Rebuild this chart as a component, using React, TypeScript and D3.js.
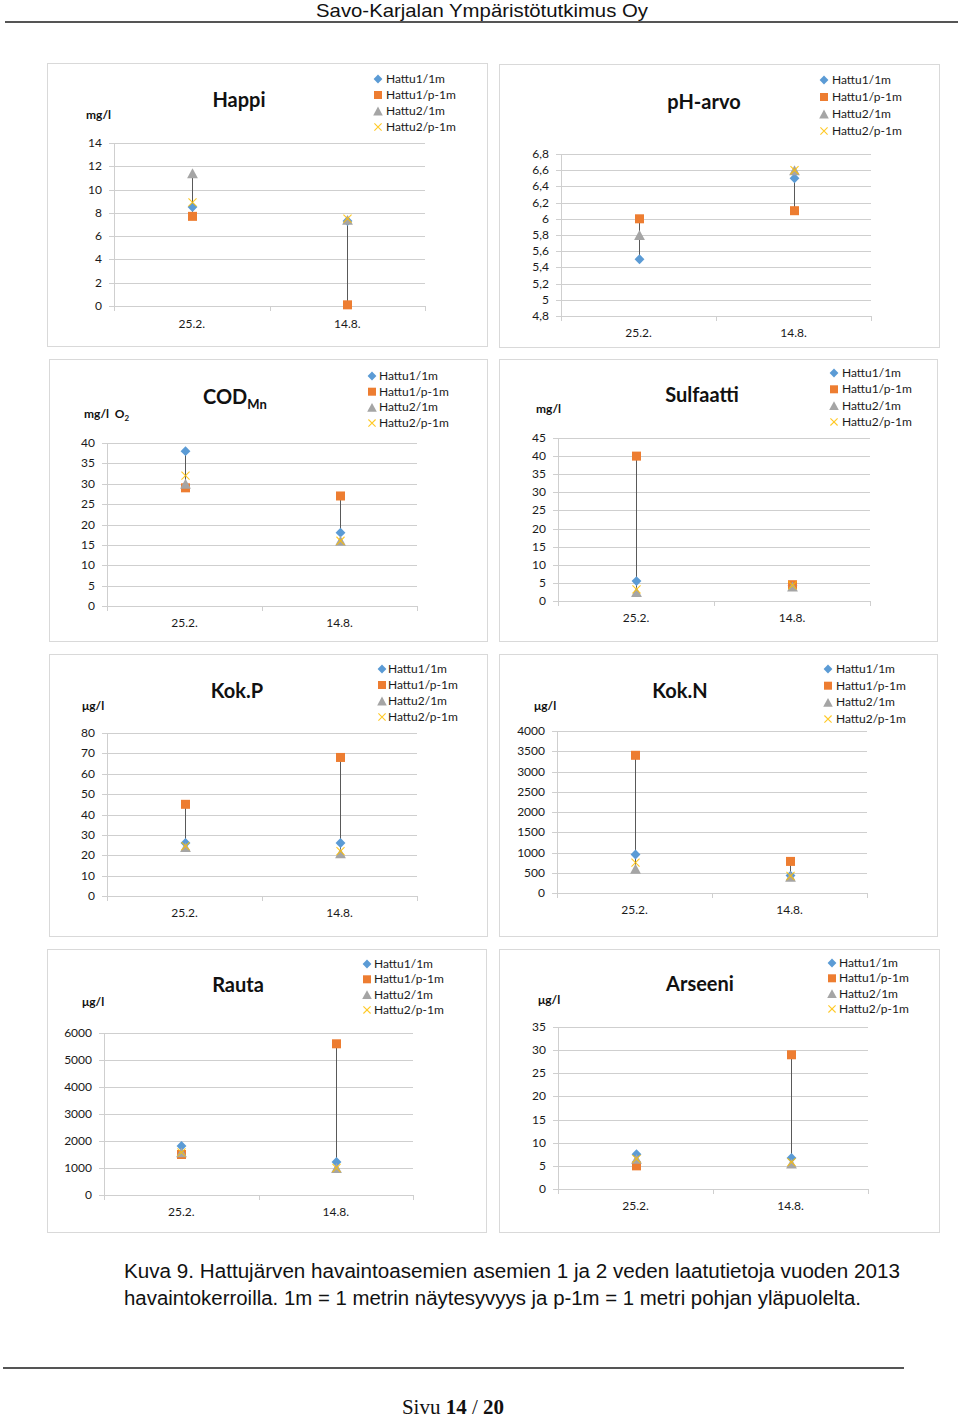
import React from "react";
import * as d3 from "d3";

const categories = ["25.2.", "14.8."];
const seriesNames = ["Hattu1/1m", "Hattu1/p-1m", "Hattu2/1m", "Hattu2/p-1m"];

// values per series: [25.2., 14.8.]
const happiValues = [[8.5, 7.3], [7.7, 0.1], [11.4, 7.4], [8.9, 7.5]];
const phValues = [[5.5, 6.5], [6.0, 6.1], [5.8, 6.6], [null, 6.6]];
const codValues = [[38, 18], [29, 27], [30, 16], [32, 16]];
const sulfaattiValues = [[5.5, 4.2], [40, 4.5], [2.5, 4.0], [3.2, 4.3]];
const kokPValues = [[26, 26], [45, 68], [24, 21], [24.5, 22]];
const kokNValues = [[950, 430], [3400, 780], [600, 400], [750, 420]];
const rautaValues = [[1815, 1220], [1500, 5600], [1580, 1000], [1580, 1000]];
const arseeniValues = [[7.5, 6.7], [5, 29], [6.5, 5.5], [6.5, 5.8]];

const happiTicks = [0, 2, 4, 6, 8, 10, 12, 14];
const phTicks = [4.8, 5, 5.2, 5.4, 5.6, 5.8, 6, 6.2, 6.4, 6.6, 6.8];
const codTicks = [0, 5, 10, 15, 20, 25, 30, 35, 40];
const sulfaattiTicks = [0, 5, 10, 15, 20, 25, 30, 35, 40, 45];
const kokPTicks = [0, 10, 20, 30, 40, 50, 60, 70, 80];
const kokNTicks = [0, 500, 1000, 1500, 2000, 2500, 3000, 3500, 4000];
const rautaTicks = [0, 1000, 2000, 3000, 4000, 5000, 6000];
const arseeniTicks = [0, 5, 10, 15, 20, 25, 30, 35];

const COLORS = ["#5B9BD5", "#ED7D31", "#A5A5A5", "#FFC000"];
const FONT = "Lato, 'Open Sans', sans-serif";

type Panel = {
  title: string;
  sub?: string;
  unit?: string;
  unitSub?: string;
  values: (number | null)[][];
  ticks: number[];
  box: [number, number, number, number];
  plot: { l: number; r: number; t: number; b: number };
  titlePos: [number, number];
  unitPos?: [number, number];
  legend: { mx: number; tx: number; y0: number; dy: number };
  xLabelDy: number;
};

const panels: Panel[] = [
  {
    title: "Happi", unit: "mg/l", values: happiValues, ticks: happiTicks,
    box: [47, 63, 440, 283], plot: { l: 114, r: 425, t: 143, b: 306 },
    titlePos: [239, 107], unitPos: [86, 119],
    legend: { mx: 378, tx: 386, y0: 79, dy: 16 }, xLabelDy: 22,
  },
  {
    title: "pH-arvo", values: phValues, ticks: phTicks,
    box: [499, 64, 440, 283], plot: { l: 561, r: 871, t: 154, b: 316 },
    titlePos: [704, 109],
    legend: { mx: 824, tx: 832, y0: 80, dy: 17 }, xLabelDy: 21,
  },
  {
    title: "COD", sub: "Mn", unit: "mg/l  O", unitSub: "2", values: codValues, ticks: codTicks,
    box: [49, 359, 438, 282], plot: { l: 107, r: 417, t: 443, b: 606 },
    titlePos: [203, 404], unitPos: [84, 418],
    legend: { mx: 372, tx: 379, y0: 376, dy: 15.7 }, xLabelDy: 21,
  },
  {
    title: "Sulfaatti", unit: "mg/l", values: sulfaattiValues, ticks: sulfaattiTicks,
    box: [499, 359, 438, 282], plot: { l: 558, r: 870, t: 438, b: 601 },
    titlePos: [702, 402], unitPos: [536, 413],
    legend: { mx: 834, tx: 842, y0: 373, dy: 16.3 }, xLabelDy: 21,
  },
  {
    title: "Kok.P", unit: "μg/l", values: kokPValues, ticks: kokPTicks,
    box: [49, 654, 438, 282], plot: { l: 107, r: 417, t: 733, b: 896 },
    titlePos: [237, 698], unitPos: [82, 710],
    legend: { mx: 382, tx: 388, y0: 669, dy: 16 }, xLabelDy: 21,
  },
  {
    title: "Kok.N", unit: "μg/l", values: kokNValues, ticks: kokNTicks,
    box: [499, 654, 438, 282], plot: { l: 557, r: 867, t: 731, b: 893 },
    titlePos: [680, 698], unitPos: [534, 710],
    legend: { mx: 828, tx: 836, y0: 669, dy: 16.7 }, xLabelDy: 21,
  },
  {
    title: "Rauta", unit: "μg/l", values: rautaValues, ticks: rautaTicks,
    box: [47, 949, 439, 283], plot: { l: 104, r: 413, t: 1033, b: 1195 },
    titlePos: [238, 992], unitPos: [82, 1006],
    legend: { mx: 367, tx: 374, y0: 964, dy: 15.3 }, xLabelDy: 21,
  },
  {
    title: "Arseeni", unit: "μg/l", values: arseeniValues, ticks: arseeniTicks,
    box: [499, 949, 440, 283], plot: { l: 558, r: 868, t: 1027, b: 1189 },
    titlePos: [700, 991], unitPos: [538, 1004],
    legend: { mx: 832, tx: 839, y0: 963, dy: 15.3 }, xLabelDy: 21,
  },
];

function marker(i: number, cx: number, cy: number, s: number, key: string) {
  if (i === 0) {
    const h = s * 0.55;
    return <path key={key} d={`M${cx},${cy - h}L${cx + h},${cy}L${cx},${cy + h}L${cx - h},${cy}Z`} fill={COLORS[0]} />;
  }
  if (i === 1) {
    const h = s * 0.5;
    return <rect key={key} x={cx - h} y={cy - h} width={2 * h} height={2 * h} fill={COLORS[1]} />;
  }
  if (i === 2) {
    const w = s * 0.6, hh = s * 0.55;
    return <path key={key} d={`M${cx},${cy - hh}L${cx + w},${cy + hh}L${cx - w},${cy + hh}Z`} fill={COLORS[2]} />;
  }
  const h = s * 0.45;
  return (
    <path key={key} d={`M${cx - h},${cy - h}L${cx + h},${cy + h}M${cx + h},${cy - h}L${cx - h},${cy + h}`}
      stroke={COLORS[3]} strokeWidth={1.1} fill="none" opacity={0.85} />
  );
}

const fmt = (v: number) => String(+v.toFixed(1)).replace(".", ",");

function ChartPanel({ p, idx }: { p: Panel; idx: number }) {
  const { l, r, t, b } = p.plot;
  const y = d3.scaleLinear().domain(d3.extent(p.ticks) as [number, number]).range([b, t]);
  const x = d3.scaleBand().domain(categories).range([l, r]);
  const cx = (c: string) => (x(c) as number) + x.bandwidth() / 2;
  const grid = "#CFCFCF";
  const boundaries = [l, ...categories.map((c) => (x(c) as number) + x.bandwidth())];
  return (
    <g key={idx}>
      <rect x={p.box[0] + 0.5} y={p.box[1] + 0.5} width={p.box[2]} height={p.box[3]} fill="#fff" stroke="#D9D9D9" />
      {p.ticks.map((tv) => (
        <g key={tv}>
          <line x1={l - 5} x2={r} y1={Math.round(y(tv)) + 0.5} y2={Math.round(y(tv)) + 0.5} stroke={grid} />
          <text x={l - 12} y={y(tv) + 4} textAnchor="end" fontSize={12} fontFamily={FONT} fill="#1a1a1a">
            {fmt(tv)}
          </text>
        </g>
      ))}
      <line x1={l + 0.5} x2={l + 0.5} y1={t} y2={b + 0.5} stroke={grid} />
      {boundaries.map((bx, i) => (
        <line key={i} x1={Math.round(bx) + 0.5} x2={Math.round(bx) + 0.5} y1={b} y2={b + 5} stroke={grid} />
      ))}
      {categories.map((c) => (
        <text key={c} x={cx(c)} y={b + p.xLabelDy} textAnchor="middle" fontSize={12} fontFamily={FONT} fill="#1a1a1a">
          {c}
        </text>
      ))}
      {categories.map((c, ci) => {
        const vals = p.values.map((s) => s[ci]).filter((v) => v !== null) as number[];
        const lo = d3.min(vals) as number, hi = d3.max(vals) as number;
        return <line key={"hl" + c} x1={Math.round(cx(c)) + 0.5} x2={Math.round(cx(c)) + 0.5} y1={y(lo)} y2={y(hi)} stroke="#595959" strokeWidth={1} />;
      })}
      {p.values.map((s, si) =>
        s.map((v, ci) => (v === null ? null : marker(si, Math.round(cx(categories[ci])) + 0.5, y(v), 9, `m${si}-${ci}`)))
      )}
      <text x={p.titlePos[0]} y={p.titlePos[1]} textAnchor={p.sub ? "start" : "middle"}
        fontSize={20} fontWeight="bold" fontFamily={FONT} fill="#111">
        {p.title}
        {p.sub && <tspan fontSize={13} dy={5}>{p.sub}</tspan>}
      </text>
      {p.unit && p.unitPos && (
        <text x={p.unitPos[0]} y={p.unitPos[1]} fontSize={12} fontWeight="bold" fontFamily={FONT} fill="#111" xmlSpace="preserve">
          {p.unit}
          {p.unitSub && <tspan fontSize={8} dy={3}>{p.unitSub}</tspan>}
        </text>
      )}
      {seriesNames.map((n, si) => {
        const ly = p.legend.y0 + si * p.legend.dy;
        return (
          <g key={n}>
            {marker(si, p.legend.mx, ly, 8, "lg" + si)}
            <text x={p.legend.tx} y={ly + 4} fontSize={12} fontFamily={FONT} fill="#1a1a1a">{n}</text>
          </g>
        );
      })}
    </g>
  );
}

export default function App() {
  return (
    <svg width={960} height={1420} style={{ position: "absolute", left: 0, top: 0, background: "#fff" }}>
      <rect width={960} height={1420} fill="#fff" />
      <text x={482} y={17} textAnchor="middle" fontSize={19} fontFamily="'Liberation Sans Narrow', 'Liberation Sans', Arial, sans-serif"
        textLength={332} lengthAdjust="spacingAndGlyphs" fill="#111">
        Savo-Karjalan Ympäristötutkimus Oy
      </text>
      <line x1={5} x2={958} y1={22} y2={22} stroke="#555" strokeWidth={2} />
      {panels.map((p, i) => (
        <ChartPanel key={i} p={p} idx={i} />
      ))}
      <text x={124} y={1278} fontSize={20} fontFamily="'Liberation Sans Narrow', 'Liberation Sans', Arial, sans-serif"
        textLength={776} lengthAdjust="spacingAndGlyphs" fill="#111">
        Kuva 9. Hattujärven havaintoasemien asemien 1 ja 2 veden laatutietoja vuoden 2013
      </text>
      <text x={124} y={1305} fontSize={20} fontFamily="'Liberation Sans Narrow', 'Liberation Sans', Arial, sans-serif"
        textLength={737} lengthAdjust="spacingAndGlyphs" fill="#111">
        havaintokerroilla. 1m = 1 metrin näytesyvyys ja p-1m = 1 metri pohjan yläpuolelta.
      </text>
      <line x1={3} x2={904} y1={1368} y2={1368} stroke="#555" strokeWidth={2} />
      <text x={453} y={1414} textAnchor="middle" fontSize={21} fontFamily="'Liberation Serif', 'Times New Roman', serif" fill="#111">
        Sivu <tspan fontWeight="bold">14</tspan> / <tspan fontWeight="bold">20</tspan>
      </text>
    </svg>
  );
}
